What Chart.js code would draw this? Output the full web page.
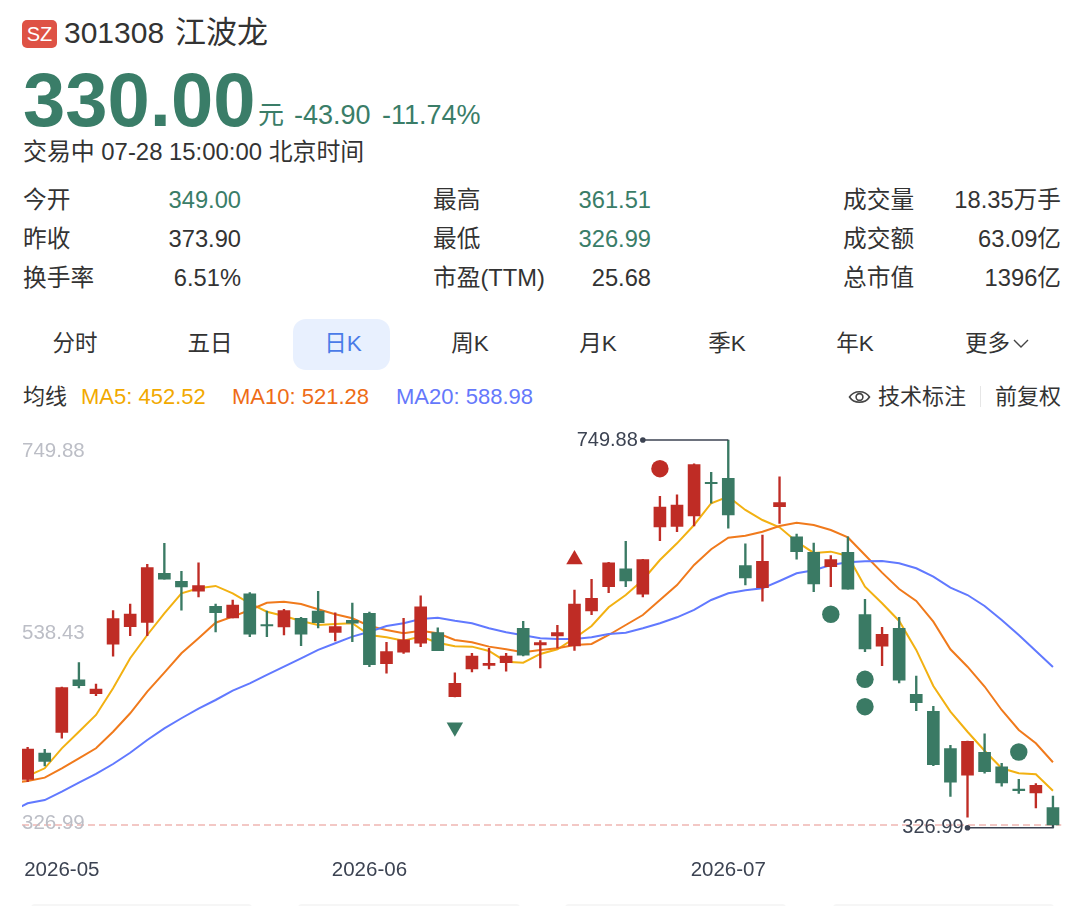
<!DOCTYPE html>
<html lang="zh">
<head>
<meta charset="utf-8">
<title>301308 江波龙</title>
<script src="https://cdn.jsdelivr.net/npm/chart.js@4"></script>
<style>
    html, body { margin: 0; padding: 0; background: #fff; }
    body { position: relative; width: 1080px; height: 906px; overflow: hidden;
           font-family: "Liberation Sans", "Noto Sans CJK SC", sans-serif; color: #333; }
    .t { position: absolute; white-space: nowrap; line-height: 30px; font-size: 23.7px; }
    .tab { font-size: 22.5px; }
    .leg { font-size: 22px; }
    .r { text-align: right; }
    .c { transform: translateX(-50%); }
    .down { color: #3a7d68; }
    .card { position: absolute; top: 904px; height: 8px; border-radius: 5px; background: #f6f6f6; }
    #chartBox { position: absolute; left: 0; top: 420px; width: 1080px; height: 486px; }
</style>
</head>
<body>
    <div style="position:absolute;left:22px;top:20px;width:35px;height:28px;border-radius:5px;background:#de5245;color:#fff;font-size:20px;line-height:28px;text-align:center;">SZ</div>
    <div class="t" style="left:64px;top:18px;font-size:30px;">301308</div>
    <div class="t" style="left:175px;top:18px;font-size:31px;">江波龙</div>
    <div class="t down" style="left:23px;top:62px;font-size:76px;line-height:76px;font-weight:bold;">330.00</div>
    <div class="t down" style="left:258px;top:100px;font-size:26px;">元</div>
    <div class="t down" style="left:294px;top:100px;font-size:27px;">-43.90</div>
    <div class="t down" style="left:382px;top:100px;font-size:27px;">-11.74%</div>
    <div class="t" style="left:23px;top:137px;font-size:23.9px;">交易中 07-28 15:00:00 北京时间</div>

    <div class="t" style="left:23px;top:185px;">今开</div>
    <div class="t down r" style="right:839px;top:185px;">349.00</div>
    <div class="t" style="left:23px;top:224px;">昨收</div>
    <div class="t r" style="right:839px;top:224px;">373.90</div>
    <div class="t" style="left:23px;top:263px;">换手率</div>
    <div class="t r" style="right:839px;top:263px;">6.51%</div>

    <div class="t" style="left:433px;top:185px;">最高</div>
    <div class="t down r" style="right:429px;top:185px;">361.51</div>
    <div class="t" style="left:433px;top:224px;">最低</div>
    <div class="t down r" style="right:429px;top:224px;">326.99</div>
    <div class="t" style="left:433px;top:263px;">市盈(TTM)</div>
    <div class="t r" style="right:429px;top:263px;">25.68</div>

    <div class="t" style="left:843px;top:185px;">成交量</div>
    <div class="t r" style="right:19px;top:185px;">18.35万手</div>
    <div class="t" style="left:843px;top:224px;">成交额</div>
    <div class="t r" style="right:19px;top:224px;">63.09亿</div>
    <div class="t" style="left:843px;top:263px;">总市值</div>
    <div class="t r" style="right:19px;top:263px;">1396亿</div>

    <div style="position:absolute;left:293px;top:319px;width:97px;height:51px;border-radius:13px;background:#e8f0fe;"></div>
    <div class="t c tab" style="left:75px;top:329px;">分时</div>
    <div class="t c tab" style="left:210px;top:329px;">五日</div>
    <div class="t c tab" style="left:343px;top:329px;color:#4a7be8;">日K</div>
    <div class="t c tab" style="left:470px;top:329px;">周K</div>
    <div class="t c tab" style="left:598px;top:329px;">月K</div>
    <div class="t c tab" style="left:727px;top:329px;">季K</div>
    <div class="t c tab" style="left:855px;top:329px;">年K</div>
    <div class="t tab" style="left:965px;top:329px;">更多</div>
    <svg style="position:absolute;left:1012px;top:338px;" width="18" height="12"><path d="M2 2 L9 9 L16 2" fill="none" stroke="#444" stroke-width="1.4"/></svg>

    <div class="t leg" style="left:23px;top:382px;">均线</div>
    <div class="t leg" style="left:81px;top:382px;color:#f2a900;">MA5: 452.52</div>
    <div class="t leg" style="left:232px;top:382px;color:#ee6c16;">MA10: 521.28</div>
    <div class="t leg" style="left:396px;top:382px;color:#6578fb;">MA20: 588.98</div>
    <svg style="position:absolute;left:848px;top:387px;" width="24" height="20"><path d="M1.5 10 C6 3 17 3 21.5 10 C17 17 6 17 1.5 10 Z" fill="none" stroke="#444" stroke-width="1.6"/><circle cx="11.5" cy="10" r="3.4" fill="none" stroke="#444" stroke-width="1.6"/></svg>
    <div class="t leg" style="left:878px;top:382px;">技术标注</div>
    <div style="position:absolute;left:980px;top:386px;width:1px;height:21px;background:#e6e6e6;"></div>
    <div class="t leg" style="left:995px;top:382px;">前复权</div>

    <div id="chartBox"><canvas id="klineChart" width="1080" height="486"></canvas></div>

    <div class="card" style="left:31px;width:221px;"></div>
    <div class="card" style="left:298px;width:222px;"></div>
    <div class="card" style="left:565px;width:221px;"></div>
    <div class="card" style="left:833px;width:221px;"></div>

<script>
// trading days on the chart, used for the month labels on the x axis
var dates = [
    '2026-04-29', '2026-04-30',
    '2026-05-06', '2026-05-07', '2026-05-08', '2026-05-11', '2026-05-12', '2026-05-13', '2026-05-14', '2026-05-15',
    '2026-05-18', '2026-05-19', '2026-05-20', '2026-05-21', '2026-05-22', '2026-05-25', '2026-05-26', '2026-05-27', '2026-05-28', '2026-05-29',
    '2026-06-01', '2026-06-02', '2026-06-03', '2026-06-04', '2026-06-05', '2026-06-08', '2026-06-09', '2026-06-10', '2026-06-11', '2026-06-12',
    '2026-06-15', '2026-06-16', '2026-06-17', '2026-06-18', '2026-06-22', '2026-06-23', '2026-06-24', '2026-06-25', '2026-06-26', '2026-06-29', '2026-06-30',
    '2026-07-01', '2026-07-02', '2026-07-03', '2026-07-06', '2026-07-07', '2026-07-08', '2026-07-09', '2026-07-10',
    '2026-07-13', '2026-07-14', '2026-07-15', '2026-07-16', '2026-07-17', '2026-07-20', '2026-07-21', '2026-07-22', '2026-07-23', '2026-07-24',
    '2026-07-27', '2026-07-28'
];

var opens = [379.8, 408.5, 431, 488.4, 473.2, 527.1, 546.3, 551, 604.5, 595.8, 584.9, 568.5, 555.7, 582, 548.5, 546, 555.4, 563.4, 540.1, 553.2,
    560.9, 505.9, 518.6, 528.2, 539.7, 469.9, 500.1, 504.1, 507, 544.5, 526.3, 536.1, 525.2, 563.4, 589.9, 609.5, 581.6, 655, 655.7, 667, 703.8,
    708.1, 612.8, 588.8, 677.1, 644.4, 627.4, 611.7, 627.4, 559.4, 524.9, 544.5, 472.5, 454, 413.2, 384.2, 409.3, 393.3, 369.2, 364.9, 349];
var closes = [412.8, 399.4, 479.8, 481.9, 478.3, 555, 560.1, 610.6, 598, 589.5, 591, 561.5, 569.9, 538, 547.1, 563.7, 538, 550.6, 546.3, 550.2,
    504.8, 519, 531.8, 568, 520.1, 484.5, 514.3, 506.3, 514.3, 515.1, 528.8, 539.7, 571, 577.2, 615.8, 596.1, 619.4, 676.8, 679, 723, 702.3,
    668.1, 599.4, 617.6, 681.5, 628.1, 592.8, 619.4, 587.3, 521.9, 538, 487.8, 463.4, 395.7, 376.6, 421.3, 388.1, 375.8, 367.4, 373.3, 330];
var highs = [414.7, 412.5, 480.5, 507, 483.7, 563.7, 571, 614.3, 637.3, 606.7, 615.8, 571, 575.4, 583.4, 563.4, 565.3, 556.5, 584.9, 561.5, 572.1,
    562.3, 529.3, 555.4, 579.8, 544.9, 495.8, 517.2, 522.7, 517.2, 552.1, 531, 547.8, 586.2, 598, 616.5, 639.4, 619.8, 688.5, 690.2, 723.8, 714.7,
    749.88, 636.5, 646.3, 709.8, 647.4, 637.5, 623.7, 644.4, 576.1, 545.6, 556.5, 492.5, 459.5, 416.9, 421.6, 429.3, 397.2, 379.8, 375.1, 361.51];
var lows = [377.3, 394.4, 424.6, 479.4, 471, 514, 536.4, 536.4, 598, 564.2, 578.7, 540.5, 555.7, 535.3, 535.3, 537.2, 525.5, 544.9, 530.7, 529.9,
    502.6, 495.5, 517.2, 524.5, 520.1, 469.6, 496.9, 500.1, 497.7, 514.3, 501.2, 523, 520.5, 559.4, 583.4, 589.9, 578.7, 640, 649.9, 656.1, 680.9,
    653.6, 591.7, 574, 659, 619.8, 584.5, 589.9, 587.3, 519, 503.7, 484.8, 454.6, 394.6, 361.2, 338.4, 386.4, 372.2, 364.5, 348.5, 326.99];

// moving averages start one session before the first candle, the line runs in from the left edge
var ma5 = [378, 383.4, 391.8, 413.6, 431.7, 450, 479.1, 511.8, 537.2, 560.9, 582.7, 588.1, 590.7, 582.7, 571.8, 562.6, 557.9, 552.5, 548.1, 549.2, 550,
    537.2, 534.7, 531, 535.4, 528.8, 524.9, 524.5, 519.8, 508.1, 507, 516.5, 521.6, 533.6, 547, 567.4, 580.8, 597.2, 619, 637.2, 657.2,
    680.9, 688.1, 673.6, 662.6, 654.7, 639, 626.7, 628.1, 623.4, 589.9, 571.8, 552.5, 520.9, 481.6, 453.6, 431.7, 411, 391.8, 386.4, 385.3, 367.4];
var ma10 = [375.8, 378, 381.6, 391.8, 402.7, 413.6, 431.7, 451.8, 475.4, 496.1, 517.3, 533.6, 550.6, 557.2, 564.5, 572.4, 573.5, 571, 565.2, 559.8, 555.4,
    547, 542.7, 539.1, 541.9, 539.1, 531.8, 529.3, 524.5, 521.6, 518.3, 520.9, 522.7, 526.3, 527.4, 537.2, 548.1, 559, 575.4, 591.7, 613.6,
    630.7, 643.3, 645.5, 649.9, 656.1, 659.7, 657.2, 651.7, 643.6, 624.5, 605.2, 587.4, 574.3, 551.7, 521.6, 502.6, 481, 455.4, 433.6, 419.1, 398.4];
var ma20 = [344.7, 353.6, 357.2, 366.3, 376.1, 385.6, 396.5, 408.8, 422.7, 435.4, 446.4, 456.8, 466.3, 476.5, 484.5, 493.6, 502.6, 511.8, 520.9, 528.2, 535.4,
    540.8, 547, 550, 554.7, 556.1, 552.8, 550, 544.5, 540.2, 536.9, 533.6, 532.9, 532.9, 534.7, 538.3, 539.7, 544.5, 550, 556.5, 564.5,
    575.4, 582.7, 586, 588.1, 596.1, 604.5, 607.8, 613.6, 616.5, 617.6, 617.9, 615.4, 610, 600.8, 588.8, 580.8, 568.8, 553.6, 537.2, 519.8, 502.3];

var yTickValues = [749.88, 538.43, 326.99];
var lastPrice = 330;
var highIndex = 41;
var lowIndex = 60;
var highValue = 749.88;
var lowValue = 326.99;

// signal markers above and below the candles
var redCircles = [{ x: 37, y: 718.6 }];
var greenCircles = [{ x: 47, y: 559.8 }, { x: 49, y: 488.9 }, { x: 49, y: 459 }, { x: 58, y: 409.6 }];
var upMarks = [{ x: 32, y: 619.6 }];
var downMarks = [{ x: 25, y: 436.7 }];

var RED = '#bf2c25';
var GREEN = '#3a7a64';

var candleColors = opens.map(function (o, i) { return closes[i] >= o ? RED : GREEN; });
var bodies = opens.map(function (o, i) { return { x: i, y: [o, closes[i]] }; });
var wicks = highs.map(function (h, i) { return { x: i, y: [lows[i], h] }; });

function maPoints(values) {
    return values.map(function (v, i) { return { x: i - 1, y: v }; });
}

function maDataset(values, color) {
    return {
        type: 'line',
        data: maPoints(values),
        borderColor: color,
        borderWidth: 2,
        pointRadius: 0,
        tension: 0,
        order: 5
    };
}

function markDataset(points, color, style, radius, rotation) {
    return {
        type: 'line',
        data: points,
        showLine: false,
        pointStyle: style,
        pointRadius: radius,
        pointRotation: rotation,
        pointBackgroundColor: color,
        pointBorderWidth: 0,
        order: 0
    };
}

function leaderDataset(points) {
    return {
        type: 'line',
        data: points,
        borderColor: '#3c4352',
        borderWidth: 1.6,
        pointRadius: points.map(function (p, i) { return i === points.length - 1 ? 2.8 : 0; }),
        pointBackgroundColor: '#3c4352',
        pointBorderWidth: 0,
        tension: 0,
        order: 0
    };
}

// price labels sit inside the plot, so they are drawn over it by hand
var priceLabels = {
    id: 'priceLabels',
    afterDatasetsDraw: function (chart) {
        var ctx = chart.ctx;
        var y = chart.scales.y;
        var x = chart.scales.x;
        var shift = [11, -1, -4];
        ctx.save();
        ctx.font = '20.5px "Liberation Sans", sans-serif';
        ctx.textBaseline = 'middle';
        ctx.textAlign = 'left';
        ctx.fillStyle = '#bcbec6';
        yTickValues.forEach(function (v, i) {
            ctx.fillText(v.toFixed(2), 22, y.getPixelForValue(v) + shift[i]);
        });
        ctx.font = '20px "Liberation Sans", sans-serif';
        ctx.textAlign = 'right';
        ctx.fillStyle = '#3c4352';
        ctx.fillText(highValue.toFixed(2), x.getPixelForValue(36) - 5, y.getPixelForValue(highValue));
        ctx.fillText(lowValue.toFixed(2), x.getPixelForValue(55) - 4, y.getPixelForValue(lowValue));
        ctx.restore();
    }
};

var klineChart = new Chart(document.querySelector('#klineChart'), {
    type: 'bar',
    data: {
        datasets: [
            maDataset(ma20, '#6179ff'),
            maDataset(ma10, '#f07a1c'),
            maDataset(ma5, '#f2b112'),
            {
                type: 'line',
                data: [{ x: -0.33, y: lastPrice }, { x: 60.5, y: lastPrice }],
                borderColor: '#f0b7b3',
                borderWidth: 1.5,
                borderDash: [7, 4],
                pointRadius: 0,
                order: 4
            },
            {
                data: wicks,
                backgroundColor: candleColors,
                barThickness: 1.7,
                grouped: false,
                order: 2
            },
            {
                data: bodies,
                backgroundColor: candleColors,
                barThickness: 12,
                grouped: false,
                order: 1
            },
            markDataset(redCircles, RED, 'circle', 8.7, 0),
            markDataset(greenCircles, GREEN, 'circle', 8.7, 0),
            markDataset(upMarks, RED, 'triangle', 9.5, 0),
            markDataset(downMarks, GREEN, 'triangle', 9.5, 180),
            leaderDataset([{ x: highIndex, y: highValue }, { x: 36, y: highValue }]),
            leaderDataset([{ x: lowIndex, y: lastPrice }, { x: lowIndex, y: lowValue }, { x: 55, y: lowValue }])
        ]
    },
    options: {
        responsive: false,
        animation: false,
        events: [],
        layout: { padding: { left: 22, right: 18.5, top: 10, bottom: 0 } },
        plugins: { legend: { display: false }, tooltip: { enabled: false } },
        scales: {
            x: {
                type: 'linear',
                offset: false,
                min: -0.33,
                max: 60.5,
                grid: { display: false },
                border: { display: false },
                afterBuildTicks: function (axis) {
                    var ticks = [];
                    dates.forEach(function (d, i) {
                        if (i > 0 && d.slice(0, 7) !== dates[i - 1].slice(0, 7)) {
                            ticks.push({ value: i });
                        }
                    });
                    axis.ticks = ticks;
                },
                afterFit: function (axis) { axis.height = 66; },
                ticks: {
                    autoSkip: false,
                    maxRotation: 0,
                    padding: 10,
                    color: '#3c4352',
                    font: { family: '"Liberation Sans", sans-serif', size: 20.5 },
                    callback: function (value) { return dates[value].slice(0, 7); }
                }
            },
            y: {
                display: false,
                min: 313.6,
                max: 760.79
            }
        }
    },
    plugins: [priceLabels]
});
</script>
</body>
</html>
